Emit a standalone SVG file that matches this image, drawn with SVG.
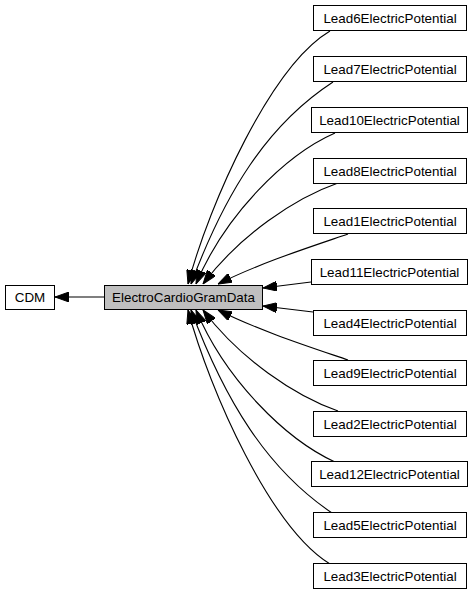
<svg xmlns="http://www.w3.org/2000/svg" width="475" height="595" viewBox="0 0 475 595">
<style>
.box{fill:#ffffff;stroke:#000000;stroke-width:1}
.main{fill:#bfbfbf;stroke:#000000;stroke-width:1}
.lbl{font-family:"Liberation Sans",Arial,sans-serif;font-size:13.4px;fill:#000000;text-anchor:middle}
.edge{fill:none;stroke:#000000;stroke-width:1.1;marker-end:url(#arr)}
</style>
<defs>
<marker id="arr" viewBox="0 0 14 10" refX="14" refY="5" markerWidth="14" markerHeight="10" markerUnits="userSpaceOnUse" orient="auto">
<path d="M0,0 L14,5 L0,10 z" fill="#000000" stroke="#000000" stroke-width="1"/>
</marker>
</defs>
<rect width="475" height="595" fill="#ffffff"/>
<g id="connectors">
<path class="edge" d="M104,297 L55,297"/>
<path class="edge" d="M330,31 C271,66 210,202 188,284"/>
<path class="edge" d="M333,82 C267,125 225,193 191,284"/>
<path class="edge" d="M335,133 C285,155 225,215 196,284"/>
<path class="edge" d="M338,183 C295,198 240,235 203,284"/>
<path class="edge" d="M348,234 C310,247 260,263 218,284"/>
<path class="edge" d="M311,282 L263,288"/>
<path class="edge" d="M313,312 L263,306"/>
<path class="edge" d="M348,360 C310,347 260,331 218,310"/>
<path class="edge" d="M338,411 C295,396 240,359 203,310"/>
<path class="edge" d="M335,462 C285,439 225,379 196,310"/>
<path class="edge" d="M332,513 C267,469 225,401 191,310"/>
<path class="edge" d="M330,564 C271,528 210,392 188,310"/>
</g>
<g id="node-cdm"><rect class="box" x="5.5" y="285.5" width="49" height="24"/><text class="lbl" x="30" y="302">CDM</text></g>
<g id="node-ecg"><rect class="main" x="104.5" y="285.5" width="158" height="24"/><text class="lbl" x="183.5" y="302">ElectroCardioGramData</text></g>
<g id="node-lead6"><rect class="box" x="313.5" y="5.5" width="153" height="25"/><text class="lbl" x="390" y="22.5">Lead6ElectricPotential</text></g>
<g id="node-lead7"><rect class="box" x="313.5" y="56.5" width="153" height="25"/><text class="lbl" x="390" y="73.5">Lead7ElectricPotential</text></g>
<g id="node-lead10"><rect class="box" x="311.5" y="107.5" width="156" height="25"/><text class="lbl" x="389.5" y="124.5">Lead10ElectricPotential</text></g>
<g id="node-lead8"><rect class="box" x="313.5" y="158.5" width="153" height="25"/><text class="lbl" x="390" y="175.5">Lead8ElectricPotential</text></g>
<g id="node-lead1"><rect class="box" x="313.5" y="208.5" width="153" height="25"/><text class="lbl" x="390" y="225.5">Lead1ElectricPotential</text></g>
<g id="node-lead11"><rect class="box" x="311.5" y="259.5" width="156" height="25"/><text class="lbl" x="389.5" y="276.5">Lead11ElectricPotential</text></g>
<g id="node-lead4"><rect class="box" x="313.5" y="310.5" width="153" height="25"/><text class="lbl" x="390" y="327.5">Lead4ElectricPotential</text></g>
<g id="node-lead9"><rect class="box" x="313.5" y="360.5" width="153" height="25"/><text class="lbl" x="390" y="377.5">Lead9ElectricPotential</text></g>
<g id="node-lead2"><rect class="box" x="313.5" y="411.5" width="153" height="25"/><text class="lbl" x="390" y="428.5">Lead2ElectricPotential</text></g>
<g id="node-lead12"><rect class="box" x="311.5" y="461.5" width="156" height="25"/><text class="lbl" x="389.5" y="478.5">Lead12ElectricPotential</text></g>
<g id="node-lead5"><rect class="box" x="313.5" y="512.5" width="153" height="25"/><text class="lbl" x="390" y="529.5">Lead5ElectricPotential</text></g>
<g id="node-lead3"><rect class="box" x="313.5" y="563.5" width="153" height="25"/><text class="lbl" x="390" y="580.5">Lead3ElectricPotential</text></g>
</svg>
